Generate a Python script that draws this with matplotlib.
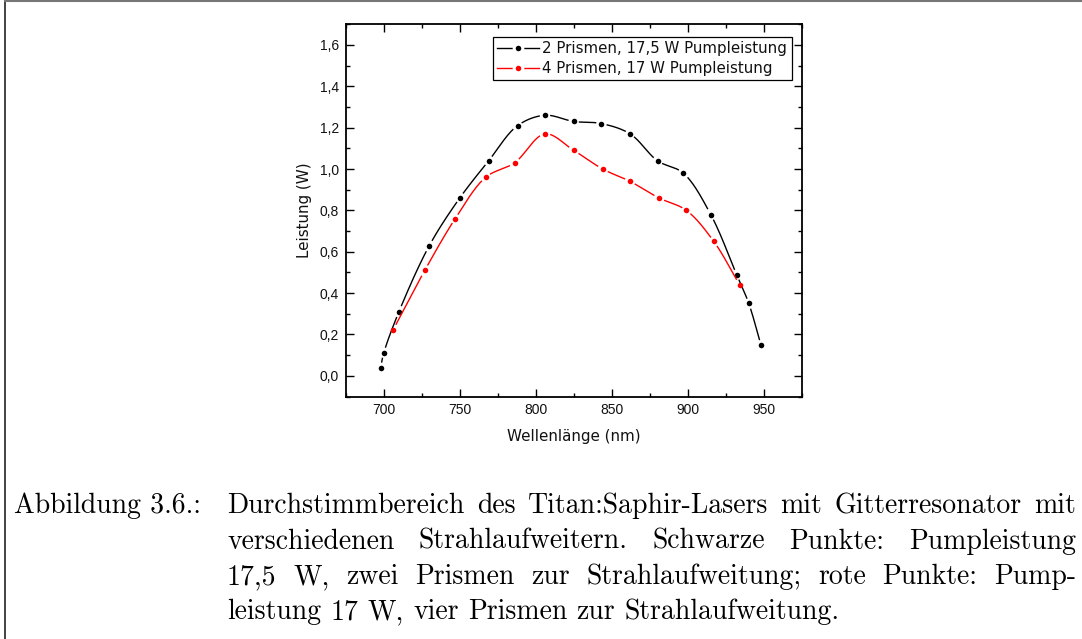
import numpy as np
import matplotlib
matplotlib.use('Agg')
import matplotlib.pyplot as plt
from matplotlib.lines import Line2D
from matplotlib.ticker import MultipleLocator, FuncFormatter

# Black: 2 prisms, 17.5 W pump power
wl_2p = [698, 700, 710, 730, 750, 769, 788, 806, 825, 843, 862, 880, 897, 915, 932, 940, 948]
p_2p = [0.04, 0.11, 0.31, 0.63, 0.86, 1.04, 1.21, 1.26, 1.23, 1.22, 1.17, 1.04, 0.98, 0.78, 0.49, 0.35, 0.15]
# Red: 4 prisms, 17 W pump power
wl_4p = [706, 727, 747, 767, 786, 806, 825, 844, 862, 881, 899, 917, 934]
p_4p = [0.22, 0.51, 0.76, 0.96, 1.03, 1.17, 1.09, 1.00, 0.94, 0.86, 0.80, 0.65, 0.44]

labels = ['2 Prismen, 17,5 W Pumpleistung', '4 Prismen, 17 W Pumpleistung']

caption_label = 'Abbildung 3.6.:'
caption_lines = [
    'Durchstimmbereich des Titan:Saphir-Lasers mit Gitterresonator mit',
    'verschiedenen Strahlaufweitern. Schwarze Punkte: Pumpleistung',
    '17,5 W, zwei Prismen zur Strahlaufweitung; rote Punkte: Pump-',
    'leistung 17 W, vier Prismen zur Strahlaufweitung.',
]

plt.rcParams['font.family'] = ['Liberation Sans', 'DejaVu Sans']

W, H = 1082, 639
fig = plt.figure(figsize=(W / 100, H / 100), dpi=100)
ax = fig.add_axes([345.7 / W, 1 - 396.5 / H, (802 - 345.7) / W, (396.5 - 24.3) / H])
ax.set_xlim(675, 975)
ax.set_ylim(-0.1, 1.7)


def catmull_rom(P, n=40, alpha=0.5):
    # smooth connecting line through the points (centripetal Catmull-Rom)
    P = np.asarray(P, float)
    P = np.vstack([2 * P[0] - P[1], P, 2 * P[-1] - P[-2]])
    out = []
    for i in range(len(P) - 3):
        p0, p1, p2, p3 = P[i:i + 4]
        t0 = 0.0
        t1 = t0 + np.linalg.norm(p1 - p0) ** alpha
        t2 = t1 + np.linalg.norm(p2 - p1) ** alpha
        t3 = t2 + np.linalg.norm(p3 - p2) ** alpha
        t = np.linspace(t1, t2, n)[:, None]
        A1 = (t1 - t) / (t1 - t0) * p0 + (t - t0) / (t1 - t0) * p1
        A2 = (t2 - t) / (t2 - t1) * p1 + (t - t1) / (t2 - t1) * p2
        A3 = (t3 - t) / (t3 - t2) * p2 + (t - t2) / (t3 - t2) * p3
        B1 = (t2 - t) / (t2 - t0) * A1 + (t - t0) / (t2 - t0) * A2
        B2 = (t3 - t) / (t3 - t1) * A2 + (t - t1) / (t3 - t1) * A3
        out.append((t2 - t) / (t2 - t1) * B1 + (t - t1) / (t2 - t1) * B2)
    return np.vstack(out)


def draw_series(x, y, color, gap=5.5):
    pts = ax.transData.transform(np.column_stack([x, y]))
    curve = catmull_rom(pts)
    d = np.min(np.linalg.norm(curve[:, None, :] - pts[None, :, :], axis=2), axis=1)
    curve[d < gap] = np.nan
    data = ax.transData.inverted().transform(curve)
    ax.plot(data[:, 0], data[:, 1], color=color, lw=1.0)
    ax.plot(x, y, 'o', color=color, ms=4.0, mew=0)


draw_series(wl_2p, p_2p, 'black')
draw_series(wl_4p, p_4p, '#ff0000')

ax.xaxis.set_major_locator(MultipleLocator(50))
ax.xaxis.set_minor_locator(MultipleLocator(25))
ax.yaxis.set_major_locator(MultipleLocator(0.2))
ax.yaxis.set_minor_locator(MultipleLocator(0.1))
ax.yaxis.set_major_formatter(FuncFormatter(lambda v, p: f'{v:.1f}'.replace('.', ',').replace('-0,0', '0,0')))
ax.tick_params(which='both', direction='in', top=True, right=True, labelsize=10, width=1.0, pad=5,
               labelcolor='#111111')
ax.tick_params(which='major', length=5.5)
ax.tick_params(which='minor', length=3)
for s in ax.spines.values():
    s.set_linewidth(1.3)

lab_font = dict(fontsize=10.9, family='DejaVu Sans', color='#111111')
ax.set_xlabel('Wellenlänge (nm)', labelpad=8.5, **lab_font)
ax.set_ylabel('Leistung (W)', labelpad=5, **lab_font)

handles = [
    Line2D([], [], color='black', lw=1.0, marker='o', ms=6.2, mfc='black', mec='white', mew=2.2),
    Line2D([], [], color='#ff0000', lw=1.0, marker='o', ms=6.2, mfc='#ff0000', mec='white', mew=2.2),
]
leg = ax.legend(handles, labels, loc='upper right', bbox_to_anchor=(1 - 10.5 / 456.3, 1 - 13 / 372.2),
                borderaxespad=0, prop={'family': 'DejaVu Sans', 'size': 10.8},
                handlelength=2.8, handletextpad=0.2, labelspacing=0.3, borderpad=0.28,
                fancybox=False, framealpha=1, edgecolor='black')
leg.get_frame().set_linewidth(0.9)
for t in leg.get_texts():
    t.set_color('#111111')

# frame around the figure page
fig.add_artist(Line2D([4.5 / W, 4.5 / W], [0, 1], transform=fig.transFigure, color='#222222', lw=1.2))
fig.add_artist(Line2D([4.5 / W, 1], [1 - 1 / H, 1 - 1 / H], transform=fig.transFigure, color='#777777', lw=1.5))

# caption, justified like the LaTeX original
cap_size = 20.0
cap_font = dict(fontfamily='cmr10', fontsize=cap_size, va='baseline', ha='left')
renderer = fig.canvas.get_renderer()
x_lab, x0, x1 = 14, 227, 1076
baselines = [513.3, 548.6, 583.9, 619.2]
fig.text(x_lab / W, 1 - baselines[0] / H, caption_label, **cap_font)
for k, line in enumerate(caption_lines):
    yb = 1 - baselines[k] / H
    words = line.split(' ')
    texts = [fig.text(0, yb, w_, **cap_font) for w_ in words]
    widths = [t.get_window_extent(renderer).width for t in texts]
    if k < len(caption_lines) - 1:
        space = (x1 - x0 - sum(widths)) / (len(words) - 1)
    else:
        space = 0.333 * cap_size * 100 / 72
    xpos = x0
    for t, wd in zip(texts, widths):
        t.set_x(xpos / W)
        xpos += wd + space

fig.savefig('out.png', dpi=100)
